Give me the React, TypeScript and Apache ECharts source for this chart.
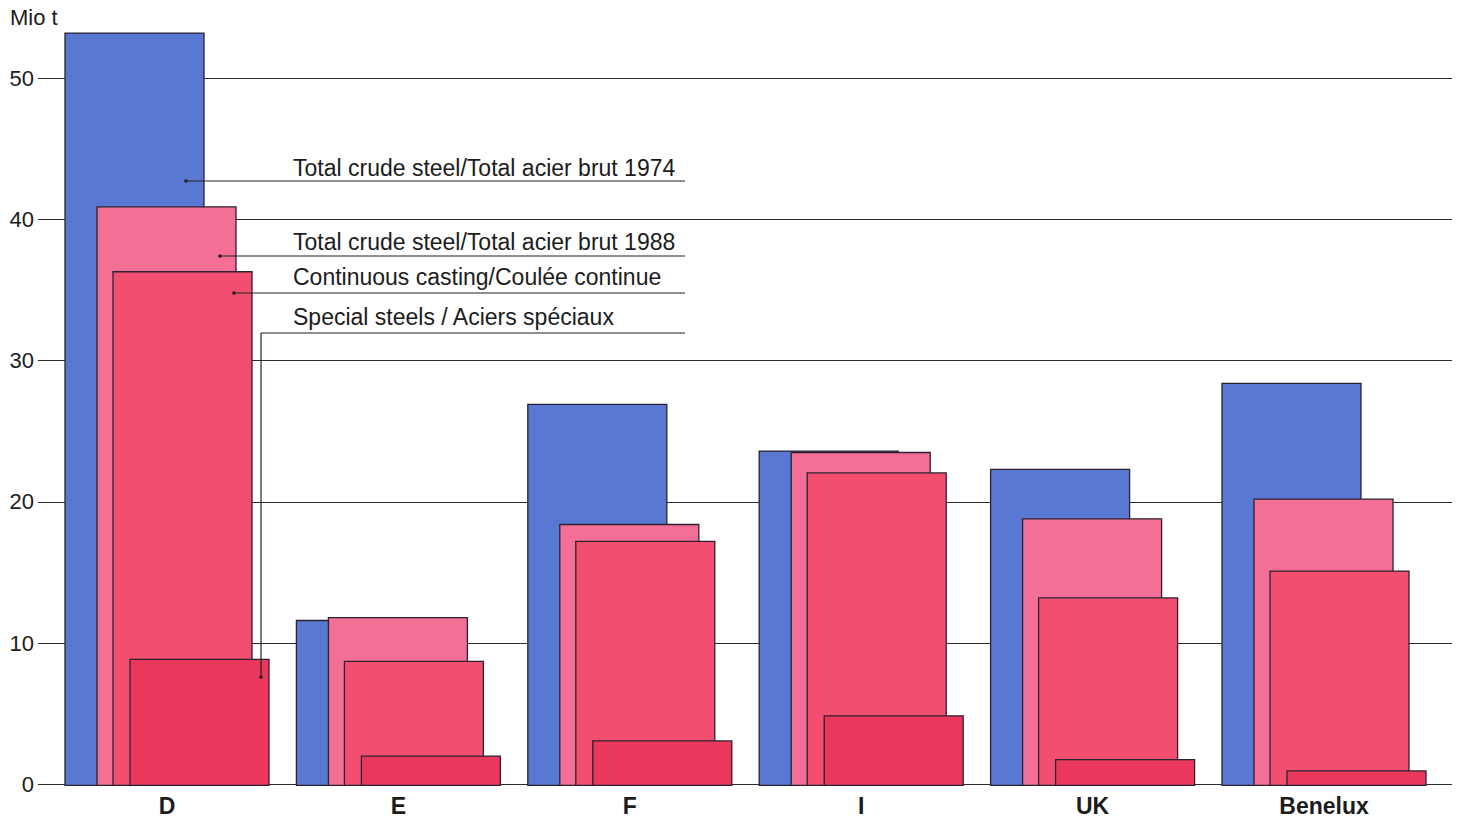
import React, { useEffect, useRef } from "react";
import * as echarts from "echarts";

const categories = ["D", "E", "F", "I", "UK", "Benelux"];
const steel1974 = [53.2, 11.6, 26.9, 23.6, 22.3, 28.4];
const steel1988 = [40.9, 11.8, 18.4, 23.5, 18.8, 20.2];
const continuousCasting = [36.3, 8.7, 17.2, 22.05, 13.2, 15.1];
const specialSteels = [8.85, 2.0, 3.07, 4.85, 1.75, 0.95];
const yTicks = [0, 10, 20, 30, 40, 50];

const seriesNames = [
  "Total crude steel/Total acier brut 1974",
  "Total crude steel/Total acier brut 1988",
  "Continuous casting/Coulée continue",
  "Special steels / Aciers spéciaux",
];
const seriesData = [steel1974, steel1988, continuousCasting, specialSteels];
const colors = ["#5878d2", "#f46f96", "#f24e70", "#e9385c"];
const offsets = [-102, -70, -54, -37];
const BAR_W = 139;
const FONT = "'Liberation Sans', Arial, Helvetica, sans-serif";

export default function App() {
  const ref = useRef<HTMLDivElement>(null);
  useEffect(() => {
    if (!ref.current) return;
    const chart = echarts.init(ref.current, null, { renderer: "svg" });
    const series = seriesData.map((vals, si) => ({
      type: "custom",
      name: seriesNames[si],
      xAxisIndex: 1,
      yAxisIndex: 1,
      clip: false,
      data: vals.map((v, i) => [i, v]),
      encode: { x: 0, y: 1 },
      z: 2 + si,
      renderItem: (params: any, api: any) => {
        const top = api.coord([api.value(0), api.value(1)]);
        const base = api.coord([api.value(0), 0]);
        return {
          type: "rect",
          shape: {
            x: top[0] + offsets[si],
            y: top[1],
            width: BAR_W,
            height: base[1] - top[1] + 1,
          },
          style: { fill: colors[si], stroke: "#2a2230", lineWidth: 1.3 },
        };
      },
    }));

    const lineStyle = { stroke: "#222", lineWidth: 1.2 };
    const textStyle = (t: string, x: number, y: number, size = 23) => ({
      type: "text",
      x,
      y,
      z: 100,
      style: {
        text: t,
        font: `${size}px ${FONT}`,
        fill: "#1c1c1c",
        textVerticalAlign: "middle",
      },
    });
    const dot = (x: number, y: number) => ({
      type: "circle",
      z: 100,
      shape: { cx: x, cy: y, r: 1.8 },
      style: { fill: "#222" },
    });
    const hline = (x1: number, x2: number, y: number) => ({
      type: "line",
      z: 100,
      shape: { x1, y1: y, x2, y2: y },
      style: lineStyle,
    });

    chart.setOption({
      animation: false,
      backgroundColor: "#ffffff",
      grid: [
        { left: 38, right: 9, top: 78.3, bottom: 33.7 },
        { left: 51.3, right: 21.3, top: 78.3, bottom: 33.7 },
      ],
      xAxis: [
        { type: "value", gridIndex: 0, min: 0, max: 1, show: false },
        {
          type: "category",
          gridIndex: 1,
          data: categories,
          axisLine: { show: false },
          axisTick: { show: false },
          axisLabel: {
            margin: 10,
            fontSize: 23,
            fontWeight: "bold",
            fontFamily: FONT,
            color: "#1c1c1c",
          },
        },
      ],
      yAxis: [
        {
          type: "value",
          gridIndex: 0,
          min: yTicks[0],
          max: yTicks[yTicks.length - 1],
          interval: 10,
          axisLine: { show: false },
          axisTick: { show: false },
          axisLabel: {
            margin: 4,
            fontSize: 22,
            fontFamily: FONT,
            color: "#1c1c1c",
          },
          splitLine: { show: true, lineStyle: { color: "#2b2b2b", width: 1.2 } },
        },
        {
          type: "value",
          gridIndex: 1,
          min: yTicks[0],
          max: yTicks[yTicks.length - 1],
          show: false,
          splitLine: { show: false },
        },
      ],
      graphic: [
        textStyle("Mio t", 10, 17, 22),
        textStyle(seriesNames[0], 293, 168),
        hline(186, 685, 181),
        dot(186, 181),
        textStyle(seriesNames[1], 293, 242),
        hline(220, 685, 256),
        dot(220, 256),
        textStyle(seriesNames[2], 293, 277),
        hline(234, 685, 293),
        dot(234, 293),
        textStyle("Special steels / Aciers spéciaux", 293, 317),
        hline(261, 685, 333),
        {
          type: "line",
          z: 100,
          shape: { x1: 261, y1: 333, x2: 261, y2: 677 },
          style: lineStyle,
        },
        dot(261, 677),
      ],
      series,
    });
    return () => chart.dispose();
  }, []);
  return (
    <div
      ref={ref}
      style={{ position: "fixed", left: 0, top: 0, width: 1461, height: 818 }}
    />
  );
}
